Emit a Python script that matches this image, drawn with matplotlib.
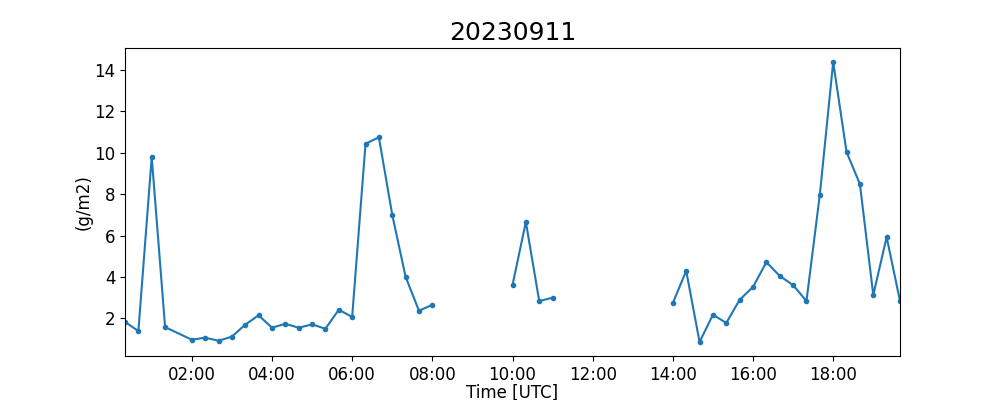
import numpy as np
import pandas as pd
import matplotlib
matplotlib.use('Agg')
import matplotlib.pyplot as plt
import matplotlib.dates as mdates

nan = np.nan
day = '2023-09-11'
# 20 min samples; 01:40 has no row, NaN rows where the line breaks
times = ['00:20', '00:40', '01:00', '01:20',
         '02:00', '02:20', '02:40', '03:00', '03:20', '03:40', '04:00', '04:20', '04:40',
         '05:00', '05:20', '05:40', '06:00', '06:20', '06:40', '07:00', '07:20', '07:40', '08:00',
         '08:20', '08:40', '09:00', '09:20', '09:40',
         '10:00', '10:20', '10:40', '11:00',
         '11:20', '11:40', '12:00', '12:20', '12:40', '13:00', '13:20', '13:40',
         '14:00', '14:20', '14:40', '15:00', '15:20', '15:40', '16:00', '16:20', '16:40',
         '17:00', '17:20', '17:40', '18:00', '18:20', '18:40', '19:00', '19:20', '19:40']
values = [1.83, 1.39, 9.80, 1.58,
          0.97, 1.07, 0.92, 1.12, 1.70, 2.15, 1.55, 1.74, 1.55, 1.71, 1.50, 2.42, 2.07,
          10.44, 10.75, 7.01, 4.01, 2.37, 2.66,
          nan, nan, nan, nan, nan,
          3.61, 6.66, 2.84, 3.00,
          nan, nan, nan, nan, nan, nan, nan, nan,
          2.74, 4.30, 0.86, 2.18, 1.78, 2.90, 3.52, 4.72, 4.05, 3.61, 2.84,
          7.98, 14.39, 10.04, 8.49, 3.13, 5.93, 2.84]

t = pd.to_datetime([day + ' ' + s for s in times])

fig, ax = plt.subplots(figsize=(10, 4), dpi=100)
ax.plot(t, values, marker='o', markersize=3, color='#1f77b4', linewidth=1.5)
ax.set_xlim(t[0], t[-1])
ax.xaxis.set_major_locator(mdates.HourLocator(byhour=range(0, 24, 2)))
ax.xaxis.set_major_formatter(mdates.DateFormatter('%H:%M'))
ax.set_title(day.replace('-', ''), fontsize=18)
ax.set_xlabel('Time [UTC]', fontsize=12, labelpad=0)
ax.set_ylabel('(g/m2)', fontsize=12, labelpad=1)
plt.xticks(fontsize=12)
plt.yticks(fontsize=12)
plt.savefig('out.png', dpi=100)
